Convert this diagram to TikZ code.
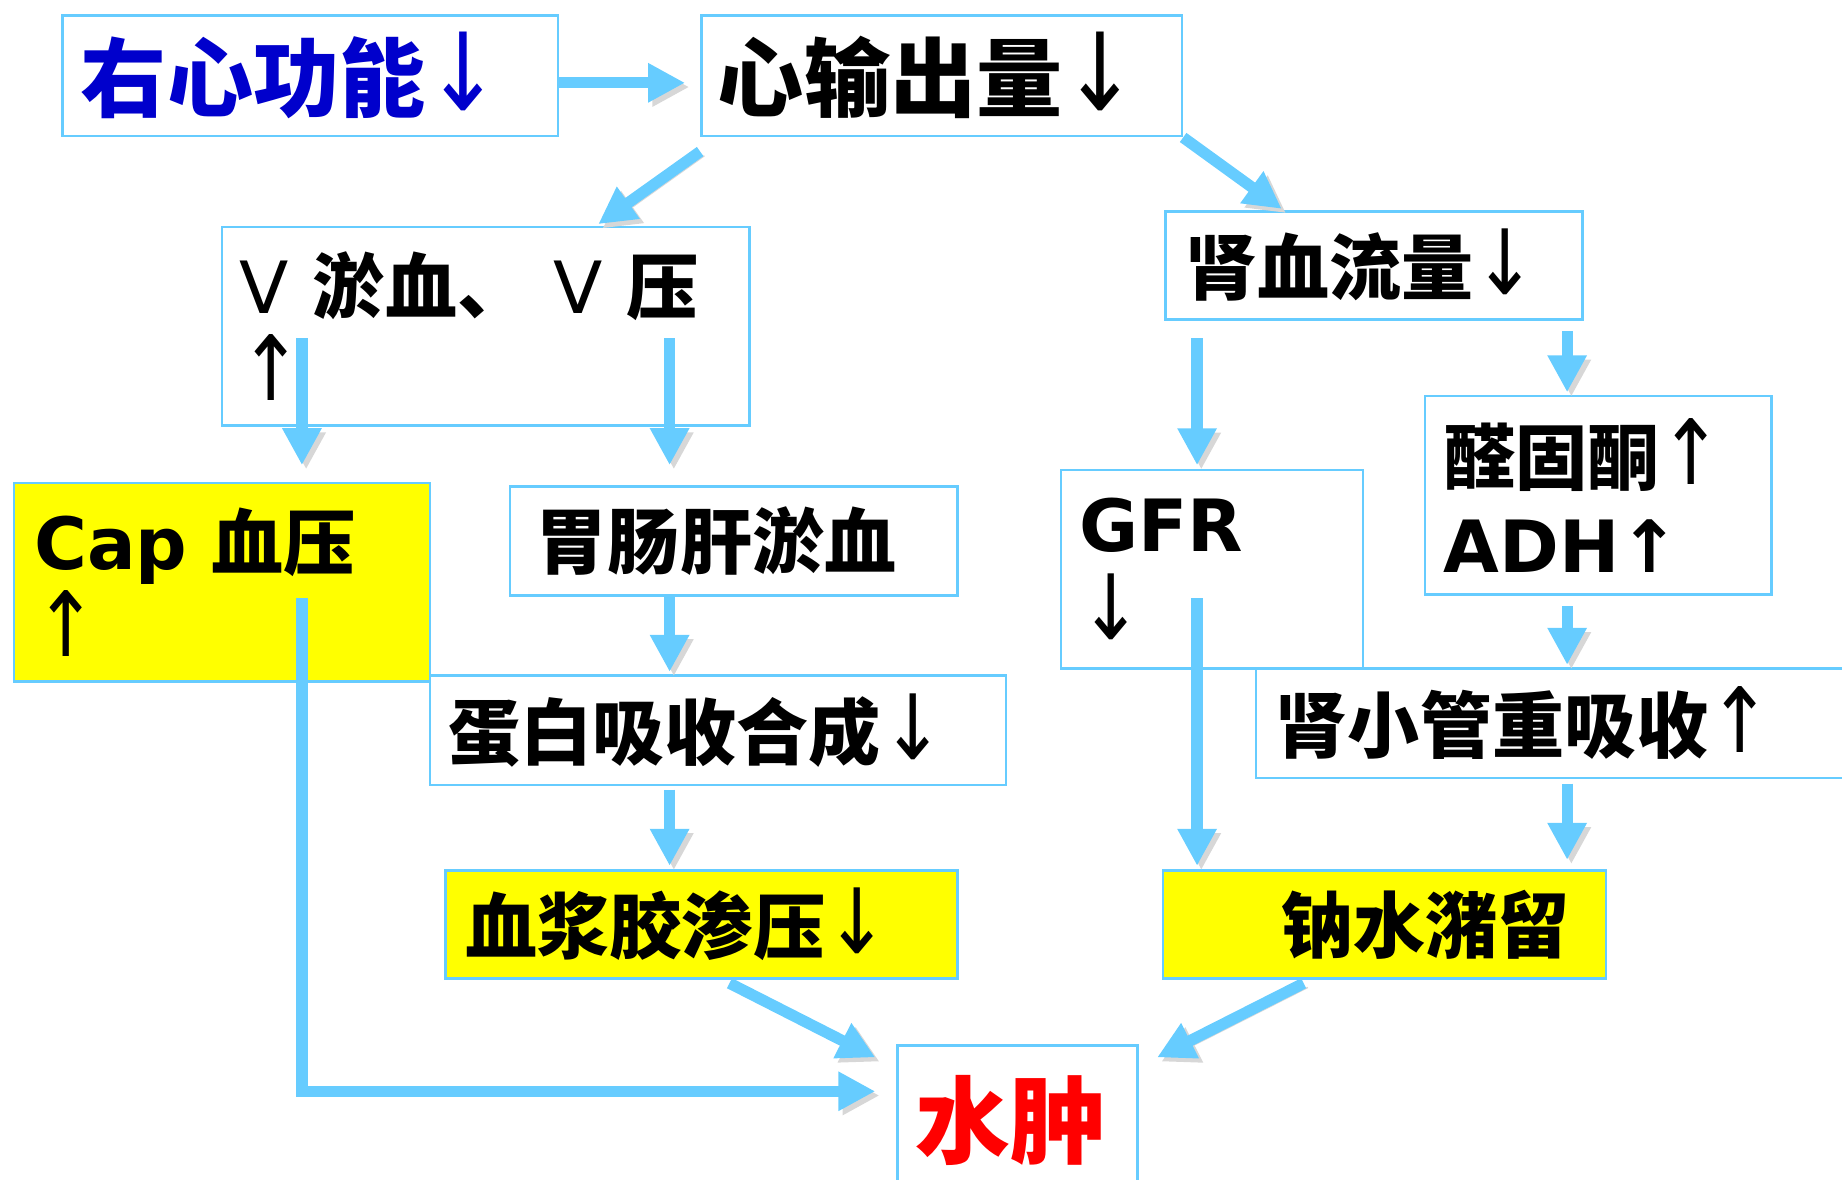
\documentclass[tikz,border=0pt]{standalone}
\usepackage{fontspec}
\usepackage{tikz}
\usetikzlibrary{arrows.meta}
\setmainfont{Noto Sans CJK SC}
\newfontfamily\lat{DejaVu Sans}
\newcommand{\dn}{{\lat\mdseries\scalebox{1.05}[1.25]{↓}}}
\newcommand{\upar}{{\lat\mdseries\scalebox{1.05}[1.25]{↑}}}
\definecolor{boxblue}{RGB}{102,204,255}
\definecolor{flowblue}{RGB}{102,204,255}
\definecolor{shadegray}{RGB}{215,215,215}
\definecolor{titleblue}{RGB}{0,0,204}
\definecolor{markyellow}{RGB}{255,255,0}
\tikzset{
  box/.style={draw=boxblue, line width=0.7pt, fill=white, anchor=north west,
    inner ysep=0pt, align=left, font=\bfseries\fontsize{20.5pt}{25pt}\selectfont},
  flow/.style={draw=flowblue, line width=3.2pt, -{Triangle[length=10.5pt,width=10.5pt]},
    preaction={draw=shadegray, transform canvas={xshift=1.2pt,yshift=-1.2pt}}}
}

\begin{document}
\begin{tikzpicture}[x=0.3342pt, y=-0.3342pt]
  \useasboundingbox (0,0) rectangle (1568,1004);

  \node[box, text=titleblue, font=\bfseries\fontsize{24.5pt}{28pt}\selectfont,
    inner xsep=5.3pt, text width=130.4pt, minimum height=34.4pt] (b1) at (52,12) {右心功能\dn};
  \node[box, font=\bfseries\fontsize{24.5pt}{28pt}\selectfont,
    inner xsep=4.7pt, text width=127.3pt, minimum height=34.4pt] (b2) at (596,12) {心输出量\dn};
  \node[box, inner xsep=5pt, text width=140.1pt, minimum height=56.5pt] (b3) at (188,192)
    {{\lat\mdseries V} 淤血、 {\lat\mdseries V} 压\\\upar};
  \node[box, inner xsep=5.7pt, text width=107.2pt, minimum height=30.7pt] (b4) at (991,179) {肾血流量\dn};
  \node[box, fill=markyellow, inner xsep=5.7pt, text width=106.9pt, minimum height=56.5pt] (b5) at (11,410)
    {{\lat Cap} 血压\\\upar};
  \node[box, inner xsep=7.4pt, text width=112.5pt, minimum height=31.1pt] (b6) at (433,413) {胃肠肝淤血};
  \node[box, inner xsep=5.3pt, text width=75.3pt, minimum height=56.5pt] (b7) at (902,399) {{\lat GFR}\\\dn};
  \node[box, inner xsep=5.3pt, text width=88pt, minimum height=56.5pt] (b8) at (1212,336)
    {醛固酮\upar\\{\lat ADH↑}};
  \node[box, inner xsep=5.3pt, text width=153.2pt, minimum height=31.1pt] (b9) at (365,574) {蛋白吸收合成\dn};
  \node[box, inner xsep=5.7pt, text width=162.4pt, minimum height=31.1pt] (b10) at (1068,568) {肾小管重吸收\upar};
  \node[box, fill=markyellow, inner xsep=5.7pt, text width=134.3pt, minimum height=30.7pt] (b11) at (378,740)
    {血浆胶渗压\dn};
  \node[box, fill=markyellow, align=right, inner xsep=10.4pt, text width=105.2pt, minimum height=30.7pt] (b12)
    at (989,740) {钠水潴留};
  \node[box, text=red, font=\bfseries\fontsize{27pt}{30pt}\selectfont,
    inner xsep=5pt, text width=58.2pt, minimum height=42.8pt] (b13) at (763,889) {水肿};

  \coordinate (vL) at (257,288);
  \coordinate (vM) at (570,288);
  \coordinate (vG) at (1019,288);
  \coordinate (vR) at (1334,282);

  \draw[flow, shorten >=4.3pt] ([yshift=-2pt]b1.east) -- ([yshift=-2pt]b2.west);
  \draw[flow, shorten >=0.7pt] ([yshift=-4pt]b2.south west) -- ([xshift=-44pt]b3.north east);
  \draw[flow, shorten >=0.7pt] (b2.south east) -- ([xshift=34pt]b4.north west);

  \draw[flow, shorten >=4.7pt] (vL) -- (vL |- b5.north);
  \draw[flow, shorten >=5.7pt] (vM) -- (vM |- b6.north);
  \draw[flow, shorten >=1pt] (vG) -- (vG |- b7.north);
  \draw[flow, shorten >=0.7pt] (vR) -- (vR |- b8.north);
  \draw[flow, shorten >=0.7pt] (vM |- b6.south) -- (vM |- b9.north);
  \draw[flow, shorten <=3pt, shorten >=0.7pt] (vR |- b8.south) -- (vR |- b10.north);
  \draw[flow, shorten <=1pt, shorten >=1pt] (vM |- b9.south) -- (vM |- b11.north);
  \draw[flow, shorten >=1pt] ([yshift=20.4pt]vG |- b7.south) -- (vG |- b12.north);
  \draw[flow, shorten <=1.3pt, shorten >=2.7pt] (vR |- b10.south) -- (vR |- b12.north);

  \draw[flow] ([xshift=8pt,yshift=-1pt]b11.south) -- ([xshift=-6pt,yshift=-3.7pt]b13.north west);
  \draw[flow] ([xshift=-23pt,yshift=-1pt]b12.south) -- ([xshift=5.3pt,yshift=-3.7pt]b13.north east);
  \draw[flow, shorten >=6pt] ([yshift=24pt]vL |- b5.south) |- ([yshift=8.4pt]b13.west);
\end{tikzpicture}
\end{document}
